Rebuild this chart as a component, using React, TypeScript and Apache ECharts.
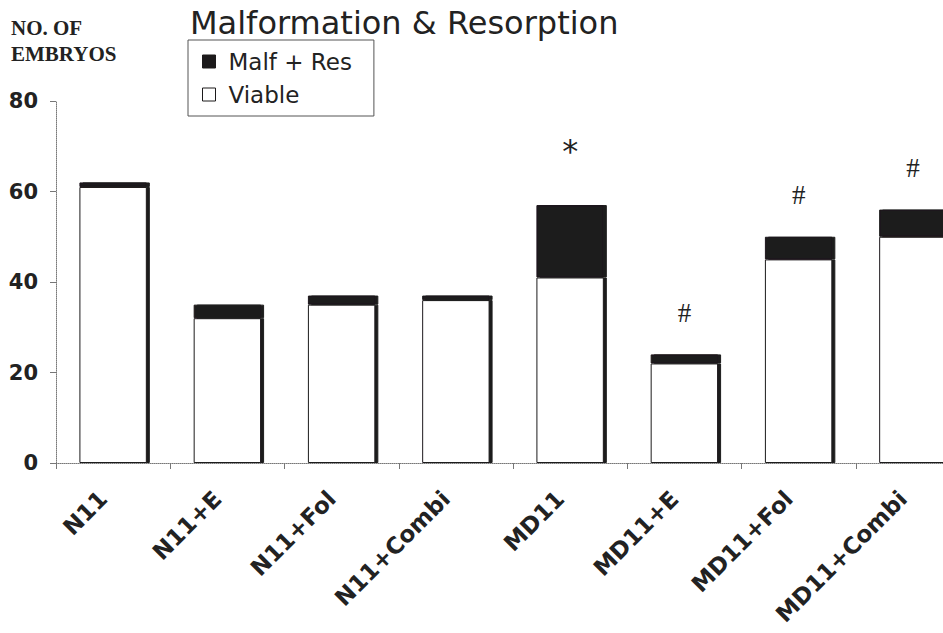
import React, { useEffect, useRef } from "react";
import * as echarts from "echarts";

const categories = ["N11", "N11+E", "N11+Fol", "N11+Combi", "MD11", "MD11+E", "MD11+Fol", "MD11+Combi"];
const viable = [61, 32, 35, 36, 41, 22, 45, 50];
const malfRes = [1, 3, 2, 1, 16, 2, 5, 6];
const significance = ["", "", "", "", "*", "#", "#", "#"];
const seriesNames = ["Malf + Res", "Viable"];
const yMin = 0;
const yMax = 80;
const yInterval = 20;

const INK = "#1c1a1b";

export default function App() {
  const ref = useRef<HTMLDivElement>(null);
  useEffect(() => {
    if (!ref.current) return;
    const chart = echarts.init(ref.current, null, { renderer: "svg" });
    const shadow = {
      shadowColor: INK,
      shadowBlur: 0,
      shadowOffsetX: 3,
      shadowOffsetY: 0,
    };
    chart.setOption({
      animation: false,
      backgroundColor: "#ffffff",
      title: {
        text: "Malformation & Resorption",
        left: 185,
        top: 2,
        textStyle: { fontFamily: "DejaVu Sans", fontSize: 32, fontWeight: "normal", color: "#222" },
      },
      graphic: [
        {
          type: "text",
          left: 11,
          top: 15,
          style: {
            text: "NO. OF\nEMBRYOS",
            font: "bold 21px 'Liberation Serif'",
            lineHeight: 26,
            fill: "#222",
          },
        },
      ],
      legend: {
        data: seriesNames,
        orient: "vertical",
        left: 188,
        top: 40,
        padding: [10, 22, 10, 14],
        itemWidth: 13,
        itemHeight: 13,
        itemGap: 10,
        borderColor: "#555",
        borderWidth: 1,
        borderRadius: 0,
        icon: "rect",
        itemStyle: { shadowBlur: 0, shadowOffsetX: 0, shadowOffsetY: 0, shadowColor: "transparent", borderColor: INK, borderWidth: 1 },
        textStyle: { fontFamily: "DejaVu Sans", fontSize: 23, color: "#222", lineHeight: 23, padding: [0, 0, 0, 8] },
      },
      grid: { left: 56, top: 101, width: 914, height: 362, containLabel: false, outerBoundsMode: "none" },
      xAxis: {
        type: "category",
        data: categories,
        axisLine: { show: true, lineStyle: { color: "#777", type: "dotted", width: 1 } },
        axisTick: { show: true, alignWithLabel: false, length: 6, lineStyle: { color: "#777" } },
        axisLabel: {
          interval: 0,
          rotate: 45,
          margin: 22,
          padding: [0, 14, 0, 0],
          fontFamily: "DejaVu Sans",
          fontWeight: "bold",
          fontSize: 23,
          color: "#222",
        },
      },
      yAxis: {
        type: "value",
        min: yMin,
        max: yMax,
        interval: yInterval,
        axisLine: { show: true, lineStyle: { color: "#777", type: "dotted", width: 1 } },
        axisTick: { show: true, inside: false, length: 6, lineStyle: { color: "#777" } },
        splitLine: { show: false },
        axisLabel: {
          margin: 18,
          fontFamily: "DejaVu Sans",
          fontWeight: "bold",
          fontSize: 21,
          color: "#222",
        },
      },
      series: [
        {
          name: seriesNames[1],
          type: "bar",
          stack: "total",
          data: viable,
          barWidth: "59%",
          itemStyle: { color: "#ffffff", borderColor: INK, borderWidth: 1, ...shadow },
        },
        {
          name: seriesNames[0],
          type: "bar",
          stack: "total",
          data: malfRes,
          barWidth: "59%",
          itemStyle: { color: INK, borderColor: INK, borderWidth: 1, ...shadow },
          label: {
            show: true,
            position: "top",
            distance: 28,
            formatter: (p: any) => {
              const s = significance[p.dataIndex];
              if (!s) return "";
              return s === "*" ? `{star|${s}}` : `{hash|${s}}`;
            },
            rich: {
              star: { fontFamily: "DejaVu Sans", fontSize: 32, color: "#222", padding: [0, 0, 10, 0] },
              hash: { fontFamily: "Liberation Serif", fontSize: 27, color: "#222" },
            },
          },
        },
      ],
    });
    return () => chart.dispose();
  }, []);
  return (
    <div style={{ position: "fixed", left: 0, top: 0, width: 943, height: 633, overflow: "hidden", background: "#fff" }}>
      <div ref={ref} style={{ width: 975, height: 633 }} />
    </div>
  );
}
